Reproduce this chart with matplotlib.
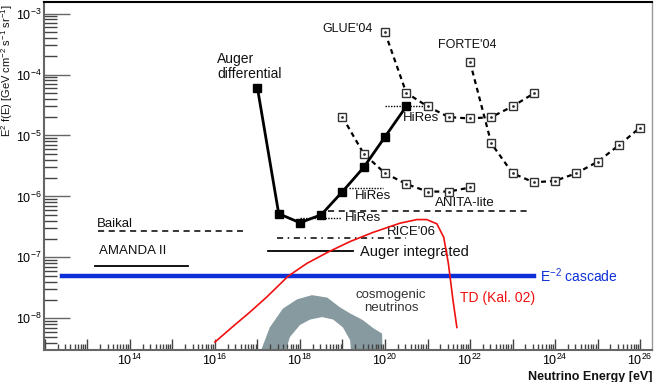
import matplotlib
matplotlib.use("Agg")
import matplotlib.pyplot as plt
import numpy as np
from matplotlib.ticker import FixedLocator, FuncFormatter, LogLocator, NullFormatter

plt.rcParams['font.family'] = ['Liberation Sans', 'DejaVu Sans']
plt.rcParams['mathtext.fontset'] = 'custom'
plt.rcParams['mathtext.rm'] = 'Liberation Sans'

# log10(E/eV) and flux E^2 f(E) [GeV cm^-2 s^-1 sr^-1]
auger_diff_logE = [17.0, 17.5, 18.0, 18.5, 19.0, 19.5, 20.0, 20.5]
auger_diff_F = [6.0e-5, 5.2e-7, 3.7e-7, 5.0e-7, 1.2e-6, 3.0e-6, 9.5e-6, 3.0e-5]

glue_logE = [20.0, 20.5, 21.0, 21.5, 22.0, 22.5, 23.0, 23.5]
glue_F = [4.9e-4, 5.0e-5, 3.0e-5, 2.0e-5, 1.9e-5, 2.0e-5, 3.0e-5, 4.9e-5]

forte_logE = [22.0, 22.5, 23.0, 23.5, 24.0, 24.5, 25.0, 25.5, 26.0]
forte_F = [1.6e-4, 7.4e-6, 2.4e-6, 1.7e-6, 1.8e-6, 2.4e-6, 3.7e-6, 6.9e-6, 1.35e-5]

anita_logE = [19.0, 19.5, 20.0, 20.5, 21.0, 21.5, 22.0]
anita_F = [2.0e-5, 5.0e-6, 2.4e-6, 1.6e-6, 1.2e-6, 1.2e-6, 1.4e-6]

# horizontal limits: (logE start, logE end, flux)
hires_lims = [(20.0, 20.95, 3.0e-5), (19.15, 19.95, 1.35e-6), (18.0, 18.97, 4.4e-7)]
anita_int = (18.65, 23.4, 5.8e-7)
rice06 = (17.45, 20.5, 2.05e-7)
baikal = (13.24, 16.66, 2.7e-7)
amanda = (13.19, 15.37, 7.1e-8)
auger_int = (17.25, 19.25, 1.25e-7)
cascade = (12.4, 23.5, 4.9e-8)

td_logE = [16.0, 16.43, 16.82, 17.22, 17.72, 18.16, 18.67, 19.18, 19.72, 20.35, 20.75,
           20.98, 21.22, 21.38, 21.49, 21.6, 21.69]
td_logF = [-8.39, -8.13, -7.90, -7.65, -7.31, -7.10, -6.91, -6.74, -6.59, -6.44, -6.38,
           -6.38, -6.45, -6.67, -7.10, -7.71, -8.15]

cosmo_up_logE = [16.99, 17.29, 17.6, 17.93, 18.28, 18.64, 18.94, 19.18, 19.48, 19.72, 19.93, 19.95]
cosmo_up_logF = [-8.7, -8.15, -7.84, -7.69, -7.62, -7.66, -7.82, -7.92, -8.03, -8.16, -8.25, -8.7]
cosmo_lo_logE = [17.6, 17.76, 18.0, 18.24, 18.52, 18.78, 19.01, 19.18, 19.22]
cosmo_lo_logF = [-8.7, -8.31, -8.11, -8.02, -7.98, -8.02, -8.15, -8.36, -8.7]

fig = plt.figure(figsize=(6.54, 3.82), dpi=100)
ax = fig.add_axes([0.0673, 0.0838, 0.9297, 0.911])
ax.set_xscale('log')
ax.set_yscale('log')
ax.set_xlim(10**11.98, 10**26.28)
ax.set_ylim(10**-8.52, 10**-2.81)

# cosmogenic band
poly_x = np.concatenate([10**np.array(cosmo_up_logE), 10**np.array(cosmo_lo_logE)[::-1]])
poly_y = np.concatenate([10**np.array(cosmo_up_logF), 10**np.array(cosmo_lo_logF)[::-1]])
ax.fill(poly_x, poly_y, color='#869aa0', lw=0, zorder=1)

# E^-2 cascade
ax.plot([10**cascade[0], 10**cascade[1]], [cascade[2]] * 2, color='#0d2fd8', lw=3.2, zorder=2)

# TD curve
ax.plot(10**np.array(td_logE), 10**np.array(td_logF), color='#f01010', lw=1.2, zorder=5)

dash = dict(color='black', lw=1.6, dashes=(2.2, 1.8))
sq = dict(marker='s', ms=5.5, mfc='white', mec='#333333', mew=1.0)
for lE, F in [(glue_logE, glue_F), (forte_logE, forte_F), (anita_logE, anita_F)]:
    ax.plot(10**np.array(lE), F, **dash, zorder=3)
    ax.plot(10**np.array(lE), F, ls='none', **sq, zorder=4)
    ax.plot(10**np.array(lE), F, ls='none', marker='.', ms=2, color='#333333', zorder=4)

# Auger differential
ax.plot(10**np.array(auger_diff_logE), auger_diff_F, color='black', lw=2,
        marker='s', ms=5.5, zorder=6)

# horizontal limit lines
for a, b, f in hires_lims:
    ax.plot([10**a, 10**b], [f, f], color='black', lw=1.0, ls=(0, (1, 1)), zorder=3)
ax.plot([10**anita_int[0], 10**anita_int[1]], [anita_int[2]] * 2, color='black', lw=1.1,
        dashes=(4, 3), zorder=3)
ax.plot([10**rice06[0], 10**rice06[1]], [rice06[2]] * 2, color='black', lw=1.1,
        dashes=(4, 3, 1, 3), zorder=3)
ax.plot([10**baikal[0], 10**baikal[1]], [baikal[2]] * 2, color='black', lw=1.1,
        dashes=(4, 3), zorder=3)
ax.plot([10**amanda[0], 10**amanda[1]], [amanda[2]] * 2, color='black', lw=1.3, zorder=3)
ax.plot([10**auger_int[0], 10**auger_int[1]], [auger_int[2]] * 2, color='black', lw=1.3, zorder=3)

# labels
def txt(le, lf, s, **kw):
    kw.setdefault('fontsize', 9)
    kw.setdefault('ha', 'left')
    kw.setdefault('va', 'center')
    kw.setdefault('color', '#111111')
    ax.text(10**le, 10**lf, s, **kw)

txt(16.05, -3.87, 'Auger\ndifferential', fontsize=10, linespacing=1.1)
txt(18.52, -3.25, "GLUE'04")
txt(21.25, -3.52, "FORTE'04")
txt(20.42, -4.72, 'HiRes', fontsize=9.5)
txt(19.29, -6.00, 'HiRes', fontsize=9.5)
txt(19.06, -6.36, 'HiRes', fontsize=9.5)
txt(21.18, -6.11, 'ANITA-lite', fontsize=9.5)
txt(20.05, -6.59, "RICE'06", fontsize=9.5)
txt(19.41, -6.92, 'Auger integrated', fontsize=10.5)
txt(13.22, -6.46, 'Baikal', fontsize=9.5)
txt(13.27, -6.90, 'AMANDA II', fontsize=9.5)
txt(23.65, -7.30, r'E$^{-2}$ cascade', fontsize=10, color='#0d2fd8')
txt(21.76, -7.67, 'TD (Kal. 02)', fontsize=10, color='#f01010')
txt(20.14, -7.72, 'cosmogenic\nneutrinos', fontsize=9.5, ha='center', color='#333333',
    linespacing=1.1)

# axes styling
for s in ['left', 'bottom']:
    ax.spines[s].set_color('#666666')
    ax.spines[s].set_linewidth(1.5)
ax.spines['top'].set_color('black')
ax.spines['top'].set_linewidth(1.5)
ax.spines['right'].set_color('#999999')
ax.spines['right'].set_linewidth(1.0)


def xlab(v, p):
    k = round(np.log10(v))
    return r'$10^{%d}$' % k if k % 2 == 0 and k >= 14 else ''


ax.xaxis.set_major_locator(FixedLocator([10.0**k for k in range(12, 27)]))
ax.xaxis.set_major_formatter(FuncFormatter(xlab))
ax.xaxis.set_minor_locator(LogLocator(base=10, subs=np.arange(2, 10), numticks=100))
ax.xaxis.set_minor_formatter(NullFormatter())
ax.yaxis.set_major_locator(FixedLocator([10.0**k for k in range(-8, -2)]))
ax.yaxis.set_major_formatter(FuncFormatter(lambda v, p: r'$10^{%d}$' % round(np.log10(v))))
ax.yaxis.set_minor_locator(LogLocator(base=10, subs=np.arange(2, 10), numticks=100))
ax.yaxis.set_minor_formatter(NullFormatter())

ax.tick_params(axis='x', which='major', direction='in', length=8, width=1, color='#444444',
               labelsize=9, pad=2)
ax.tick_params(axis='x', which='minor', direction='in', length=4, width=1, color='#444444')
ax.tick_params(axis='y', which='major', direction='in', length=19, width=1, color='#666666',
               labelsize=9, pad=2)
ax.tick_params(axis='y', which='minor', direction='in', length=9, width=1, color='#444444')

fig.text(652 / 654, 1 - 377 / 382, 'Neutrino Energy [eV]', ha='right', va='center',
         fontsize=9, fontweight='bold', color='#111111')
fig.text(7 / 654, 1 - 4 / 382, r'E$^{2}$ f(E) [GeV cm$^{-2}$ s$^{-1}$ sr$^{-1}$]',
         rotation=90, ha='center', va='top', fontsize=8, color='#111111')

fig.savefig('out.png', dpi=100)
